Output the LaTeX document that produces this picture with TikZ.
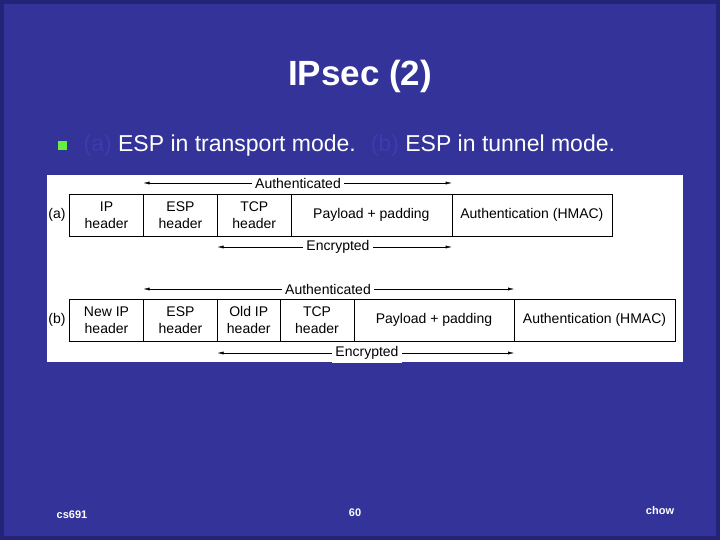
\documentclass[tikz,border=0pt]{standalone}
\usepackage{fontspec}
\setmainfont{Liberation Sans}
\usetikzlibrary{arrows,arrows.meta}
\definecolor{slide_blue}{RGB}{51,51,153}
\definecolor{edge_blue}{RGB}{35,35,120}
\definecolor{dim_blue}{RGB}{60,60,175}
\definecolor{bullet_green}{RGB}{100,240,60}

\begin{document}
\begin{tikzpicture}[x=1pt,y=-1pt,semithick,>=latex]
    \tikzstyle{cell}=[draw=black, thin, inner sep=0pt, font=\fontsize{14}{17}\selectfont, align=center]
    \tikzstyle{lbl}=[font=\fontsize{14}{17}\selectfont, fill=white, inner sep=3pt]
    \tikzstyle{span}=[{Latex[length=6pt,width=3pt]}-{Latex[length=6pt,width=3pt]}, thin]

    % slide background
    \fill[edge_blue] (0,0) rectangle (720,540);
    \fill[slide_blue] (4,4) rectangle (716,536);
    \useasboundingbox (0,0) rectangle (720,540);

    \node[text=white, font=\bfseries\fontsize{35}{38}\selectfont] (title) at (360,76) {IPsec (2)};
    \node[fill=bullet_green, minimum size=9pt, inner sep=0pt] (bul) at (62,146) {};
    \node[anchor=west, text=white, font=\fontsize{23}{26}\selectfont] (sub) at (80,146)
      {\textcolor{dim_blue}{(a)} ESP in transport mode. \ \textcolor{dim_blue}{(b)} ESP in tunnel mode.};

    \fill[white] (47,175) rectangle (683,362);

    % (a) transport mode
    \node[font=\fontsize{14}{17}\selectfont] (la) at (57,215) {(a)};
    \node[cell, minimum width=74pt, minimum height=42pt] (a1) at (106.5,215) {IP\\header};
    \node[cell, minimum width=74pt, minimum height=42pt] (a2) at (180.5,215) {ESP\\header};
    \node[cell, minimum width=73.5pt, minimum height=42pt] (a3) at (254.25,215) {TCP\\header};
    \node[cell, minimum width=160.7pt, minimum height=42pt] (a4) at (371.35,215) {Payload + padding};
    \node[cell, minimum width=160.3pt, minimum height=42pt] (a5) at (531.85,215) {Authentication (HMAC)};
    \coordinate (aa1) at (143.5,183);
    \coordinate (aa2) at (451.7,183);
    \coordinate (ae1) at (217.5,247);
    \coordinate (ae2) at (451.7,247);
    \draw[span] (aa1) -- (aa2);
    \node[lbl] (aauth) at (298,183) {Authenticated};
    \draw[span] (ae1) -- (ae2);
    \node[lbl] (aenc) at (338,247) {Encrypted};

    % (b) tunnel mode
    \node[font=\fontsize{14}{17}\selectfont] (lb) at (57,320) {(b)};
    \node[cell, minimum width=74pt, minimum height=42pt] (b1) at (106.5,320) {New IP\\header};
    \node[cell, minimum width=74pt, minimum height=42pt] (b2) at (180.5,320) {ESP\\header};
    \node[cell, minimum width=62.5pt, minimum height=42pt] (b3) at (248.75,320) {Old IP\\header};
    \node[cell, minimum width=74pt, minimum height=42pt] (b4) at (317,320) {TCP\\header};
    \node[cell, minimum width=160pt, minimum height=42pt] (b5) at (434,320) {Payload + padding};
    \node[cell, minimum width=161pt, minimum height=42pt] (b6) at (594.5,320) {Authentication (HMAC)};
    \coordinate (ba1) at (143.5,289);
    \coordinate (ba2) at (514,289);
    \coordinate (be1) at (217.5,353);
    \coordinate (be2) at (514,353);
    \draw[span] (ba1) -- (ba2);
    \node[lbl] (bauth) at (328,289) {Authenticated};
    \draw[span] (be1) -- (be2);
    \node[lbl] (benc) at (367,353) {Encrypted};

    % footer
    \node[text=white, font=\bfseries\fontsize{11}{12}\selectfont] (f1) at (72,515) {cs691};
    \node[text=white, font=\bfseries\fontsize{11}{12}\selectfont] (f2) at (355,513) {60};
    \node[text=white, font=\bfseries\fontsize{11}{12}\selectfont] (f3) at (660,511) {chow};
\end{tikzpicture}
\end{document}
